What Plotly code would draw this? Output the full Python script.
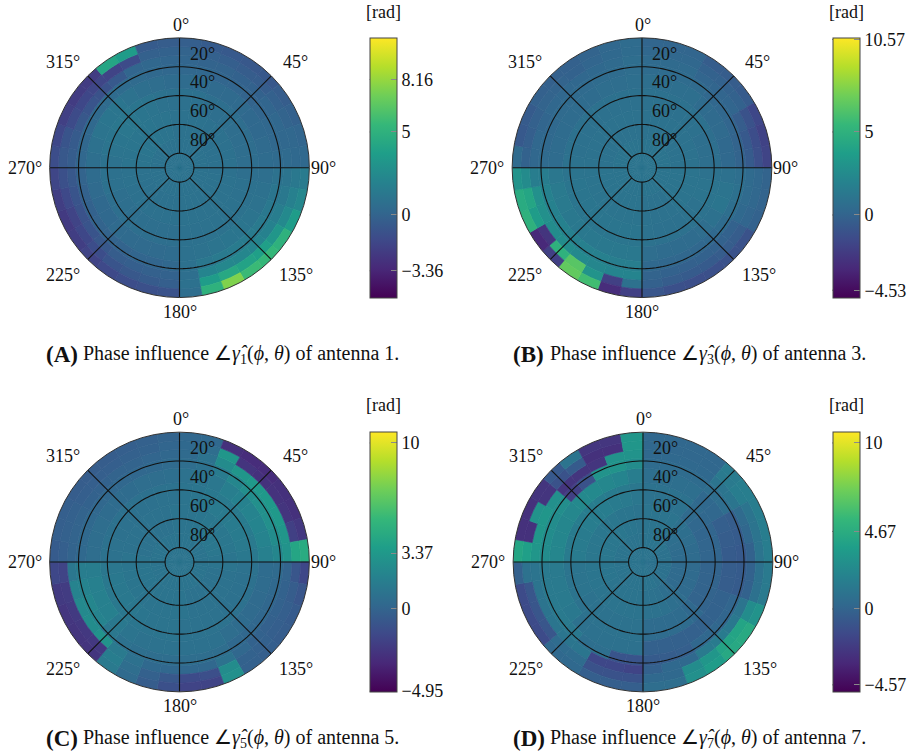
import numpy as np
import plotly.graph_objects as go

W, H = 912, 756
FONT = "Liberation Serif"
INK = "#111111"

# ring edges (r = 90 - elevation) and sector width
ring_edges = [0, 20, 40, 55, 65, 72, 78, 84, 90]
sector_deg = 10

# phase values [rad]; one row per ring (inner to outer), 36 sectors clockwise from 0 deg
phase_a = [
 [.9,.9,.9,.9,.9,.9,.9,.9,.9, .9,.9,.9,.9,.9,.9,.9,.9,.9, .9,.9,.9,.9,.9,.9,.9,.9,.9, .9,.9,.9,.9,.9,.9,.9,.9,.9],
 [.9,.9,.9,.8,.8,.8,.8,.8,.8, .8,.9,.9,.9,.9,.9,.9,.9,.9, .8,.8,.8,.8,.8,.8,.8,.9,.9, 1.,1.,1.1,1.1,1.1,1.1,1.,1.,.9],
 [.8,.8,.7,.7,.7,.6,.6,.6,.6, .7,.8,.8,.9,.9,.9,.9,.8,.8, .7,.7,.7,.7,.7,.7,.7,.8,.8, .9,1.,1.1,1.2,1.2,1.1,1.,.9,.8],
 [.5,.5,.4,.4,.4,.3,.3,.4,.5, .7,.8,.9,1.,1.1,1.1,1.,.9,.8, .5,.4,.4,.4,.4,.3,.3,.4,.5, .7,.8,1.,1.1,1.1,.9,.7,.6,.5],
 [.2,.2,.1,.1,0,.1,.2,.2,.4, .9,1.1,1.3,1.4,1.5,1.5,1.4,1.2,.8, .2,.1,.1,0,0,0,-.1,-.1,0, .2,.2,.3,.4,.5,.5,.4,.3,.2],
 [.1,0,0,-.1,-.1,.1,.2,.2,.4, 1.,1.3,1.6,1.9,2.1,2.2,2.3,2.1,.7, -.1,-.2,-.3,-.4,-.7,-.9,-1.,-.9,-.7, -.4,-.5,-.7,-.9,-1.,-.6,.1,.2,.1],
 [0,-.2,-.3,-.4,-.4,-.2,0,.2,.3, 1.3,1.8,2.4,3.2,3.8,4.,4.4,3.6,.8, -.3,-.5,-.7,-.9,-1.3,-1.6,-1.8,-1.5,-1.1, -.7,-.9,-1.4,-1.6,-1.7,-1.8,-1.4,-.2,-.1],
 [-.3,-.5,-.6,-.7,-.7,-.4,-.2,.1,.3, 1.5,2.3,3.6,5.,5.4,5.6,7.6,5.,.6, -1.,-1.1,-1.3,-1.5,-1.8,-2.1,-2.3,-2.1,-1.7, -1.3,-1.6,-2.,-2.2,-2.2,4.2,3.6,-.5,-.4],
]
phase_b = [
 [1.,1.,1.,1.,1.,1.,1.,1.,1., 1.,1.,1.,1.,1.,1.,1.,1.,1., 1.,1.,1.,1.,1.,1.,1.,1.,1., 1.,1.,1.,1.,1.,1.,1.,1.,1.],
 [.9,.9,.9,.9,.9,.9,.9,.9,.9, 1.,1.,1.,1.,1.,.9,.9,.9,.9, 1.,1.,1.,1.,1.,1.,1.,1.,1., .9,.9,.9,.9,.9,.9,.9,.9,.9],
 [.8,.8,.8,.8,.8,.8,.7,.7,.7, .9,1.,1.,.9,.9,.8,.8,.8,.9, 1.1,1.1,1.1,1.1,1.1,1.1,1.1,1.1,1., .9,.8,.8,.8,.8,.8,.8,.8,.8],
 [.7,.7,.7,.7,.5,.4,.4,.3,.3, .8,1.,1.1,.8,.6,.5,.5,.5,.6, 1.3,1.3,1.3,1.3,1.3,1.3,1.4,1.4,1.2, .5,.5,.5,.5,.5,.5,.6,.6,.7],
 [.5,.5,.5,.4,.2,.2,.1,0,0, .7,.8,.7,.5,.3,.2,.2,.2,.3, 1.7,1.7,1.8,1.8,1.8,1.9,1.9,1.9,1.6, .4,.3,.3,.4,.4,.4,.5,.5,.6],
 [.4,.4,.4,.1,.1,.1,-.4,-.6,-.5, .4,.4,.3,-.1,-.1,-.1,-.2,-.1,0, 2.1,2.1,2.2,2.4,2.6,2.6,2.8,2.8,1.6, .2,.2,.1,.2,.2,.2,.3,.4,.6],
 [.2,.2,.2,-.1,-.1,-.1,-1.,-1.3,-1.2, .2,.2,.1,-.4,-.4,-.5,-.5,-.4,-.2, .8,-2.,3.,6.5,5.,-2.6,3.6,4.2,2.5, -.1,-.3,-.2,0,0,-.1,.1,.3,.5],
 [.1,.1,.1,-.4,-.4,-.5,-1.6,-1.9,-1.8, 0,0,-.1,-1.,-1.,-1.1,-1.2,-1.1,-.8, -2.,-3.,5.8,6.8,-2.,-3.2,5.,4.6,3., .4,-.6,-.5,-.2,-.2,-.2,0,.2,.5],
]
phase_c = [
 [1.,1.,1.,1.,1.,1.,1.,1.,1., 1.,1.,1.,1.,1.,1.,1.,1.,1., 1.,1.,1.,1.,1.,1.,1.,1.,1., 1.,1.,1.,1.,1.,1.,1.,1.,1.],
 [1.,1.,1.1,1.2,1.2,1.2,1.2,1.2,1.1, 1.,.9,.9,.9,.9,.9,.9,.9,1., 1.,1.,1.,1.,1.,1.1,1.1,1.1,1.1, 1.,.9,.9,.9,.9,.9,.9,.9,1.],
 [1.,1.1,1.3,1.4,1.4,1.5,1.5,1.4,1.3, .9,.8,.8,.8,.8,.9,.9,.9,.9, 1.,1.,1.,1.1,1.2,1.3,1.3,1.3,1.2, .9,.9,.8,.8,.8,.8,.8,.9,.9],
 [.9,1.,1.2,1.7,1.9,2.,2.1,2.,1.8, .5,.5,.4,.4,.5,.6,.8,.8,.8, .9,.9,.9,1.,1.3,1.8,1.8,1.8,1.6, .6,.6,.6,.5,.5,.5,.6,.6,.7],
 [.6,.8,1.5,2.2,2.7,2.8,2.8,2.6,2.2, .4,.3,.2,.2,.2,.3,.6,.6,.6, .6,.6,.7,.8,1.2,2.,2.2,2.,1.6, .3,.3,.3,.2,.2,.2,.2,.3,.4],
 [.4,.9,2.5,3.2,3.4,3.4,3.4,3.2,3., 0,-.1,-.1,-.2,-.1,.2,.9,.2,.2, .2,.3,.8,1.4,3.,2.6,2.4,2.,1.2, 0,0,0,-.1,-.1,0,0,.1,.2],
 [.3,.6,3.2,-2.6,-2.8,-2.7,-2.6,-2.,4.2, -.8,-.4,-.3,-.3,-.2,-.1,2.6,-1.2,-1.4, -.7,-.2,.6,1.6,-2.4,-2.4,-2.3,-2.2,-1.8, -.3,-.2,-.2,-.3,-.3,-.3,-.2,-.1,.1],
 [.2,.3,-2.8,-3.,-3.,-2.8,-2.8,-2.4,4.6, -1.6,-.8,-.5,-.4,-.3,-.2,2.8,-1.8,-1.8, -1.1,-.4,.4,1.4,-2.6,-2.6,-2.5,-2.3,-1.6, -.5,-.3,-.3,-.4,-.4,-.4,-.3,-.2,0],
]
phase_d = [
 [1.,1.,1.,1.,1.,1.,.9,.9,.9, .8,.8,.8,.9,.9,.9,1.,1.,1., 1.,1.,1.,1.,1.,1.,1.,1.,1., 1.,1.,1.,1.,1.,1.,1.,1.,1.],
 [1.,1.,1.,1.,.8,.7,.6,.5,.5, .4,.4,.4,.4,.6,.7,.8,.9,.9, 1.,1.,1.,1.,1.,1.,1.1,1.1,1.1, 1.2,1.2,1.2,1.2,1.2,1.2,1.1,1.1,1.],
 [.9,.9,.9,.9,.4,.2,.1,.1,.1, 0,0,0,0,.3,.5,.5,.5,.5, .9,.9,.9,.9,.9,.9,1.,1.,1., 1.5,1.5,1.5,1.6,1.6,1.6,1.5,1.4,1.2],
 [.7,.7,.7,.7,.3,.2,-.3,-.4,-.5, -.4,-.4,-.1,-.1,-.1,-.2,-.2,-.2,-.2, .8,.8,.8,.8,.8,1.3,1.4,1.4,1.4, 2.2,2.2,2.2,2.3,2.4,2.4,2.3,2.1,1.6],
 [.5,.5,.5,.5,.6,.6,-.4,-.5,-.6, -.5,-.5,.1,.1,.2,.2,-.3,-.4,-.5, -.9,-.9,.7,.7,1.3,1.4,1.4,1.4,1.4, 2.6,2.6,2.6,2.7,-2.,-1.,3.,3.,2.6],
 [.3,.3,.3,.3,1.,1.1,.4,.2,-.1, -.1,-.1,1.,1.3,1.5,1.4,.3,.3,-.2, -1.8,-1.6,-1.6,1.1,1.1,1.1,1.,1.,1., 3.2,3.2,3.2,2.8,-2.6,-2.6,-2.6,3.,3.,],
 [.2,.2,.2,.2,1.4,1.6,1.,1.,1., .8,.8,2.6,4.1,4.1,3.2,2.6,.3,.3, -1.,-1.,-1.,.5,.5,-.8,-.8,-.8,.9, 3.8,-2.8,3.,-2.6,-1.,-.5,-2.8,-2.8,3.2],
 [.2,.2,.2,.2,1.5,1.7,1.6,1.6,1.6, 1.4,1.4,3.,4.5,4.4,3.6,2.8,.6,.6, -.3,-.3,-.3,.3,.3,-1.4,-1.4,-1.4,-.2, 4.2,-2.8,-2.8,-2.6,-.6,1.,-2.5,-2.5,3.2],
]

angle_ticks = [0, 45, 90, 135, 180, 225, 270, 315]
angle_label_dx = [1, 116, 144, 117, 0, -117, -155, -117]
angle_label_dy = [-143, -106, 0, 107, 144, 107, 0, -106]
elevation_ticks = [20, 40, 60, 80]
cbar_ticks = [
    [-3.36, 0, 5, 8.16],
    [-4.53, 0, 5, 10.57],
    [-4.95, 0, 3.37, 10],
    [-4.57, 0, 4.67, 10],
]
panel_letters = ["A", "B", "C", "D"]
panel_antennas = [1, 3, 5, 7]
panels = [phase_a, phase_b, phase_c, phase_d]

cmin, cmax = -5.0, 10.66
R_PX = 130
centres = [(179.7, 167.7), (642.7, 167.7), (179.7, 562.0), (643.7, 562.0)]
bar_x = [370, 833, 370, 833]
bar_top = [38, 38, 432, 432]
BAR_LEN = 260
BAR_W = 27
rad_y = [12, 12, 405, 405]
cap_pos = [(44, 355), (512, 355), (44, 738), (512, 738)]

def fmt(v):
    s = f"{v:g}"
    return s.replace("-", "\u2212")

fig = go.Figure()
layout = {}
shapes = []
annotations = []

def px_ann(x, y, text, size=18, xanchor="center"):
    annotations.append(dict(x=x / W, y=1 - y / H, xref="paper", yref="paper", text=text,
                            showarrow=False, xanchor=xanchor, yanchor="middle",
                            font=dict(family=FONT, size=size, color=INK)))

for i, values in enumerate(panels):
    name = "polar" if i == 0 else f"polar{i+1}"
    cx, cy = centres[i]
    layout[name] = dict(
        domain=dict(x=[(cx - R_PX) / W, (cx + R_PX) / W],
                    y=[1 - (cy + R_PX) / H, 1 - (cy - R_PX) / H]),
        bgcolor="white",
        radialaxis=dict(range=[0, 90], visible=False, showgrid=False),
        angularaxis=dict(rotation=90, direction="clockwise", tickmode="array",
                         tickvals=angle_ticks, showticklabels=False,
                         showgrid=False, showline=True, linecolor="#333333", linewidth=1,
                         ticks=""),
    )
    rs, ths, ws, bases, cs = [], [], [], [], []
    for k, row in enumerate(values):
        for j, v in enumerate(row):
            rs.append(ring_edges[k + 1] - ring_edges[k])
            bases.append(ring_edges[k])
            ths.append(j * sector_deg + sector_deg / 2)
            ws.append(sector_deg)
            cs.append(v)
    fig.add_trace(go.Barpolar(
        r=rs, theta=ths, width=ws, base=bases, subplot=name, showlegend=False, hoverinfo="skip",
        marker=dict(color=cs, cmin=cmin, cmax=cmax, colorscale="Viridis", showscale=True,
                    line=dict(color=cs, cmin=cmin, cmax=cmax, colorscale="Viridis", width=0.7),
                    colorbar=dict(x=bar_x[i] / W, xanchor="left", xpad=0, ypad=0,
                                  y=1 - bar_top[i] / H, yanchor="top",
                                  len=BAR_LEN, lenmode="pixels", thickness=BAR_W, thicknessmode="pixels",
                                  outlinecolor="#444444", outlinewidth=1,
                                  tickmode="array", tickvals=cbar_ticks[i],
                                  ticktext=[fmt(t) for t in cbar_ticks[i]],
                                  ticks="inside", ticklen=6, tickcolor="#8a8a8a", tickwidth=1,
                                  tickfont=dict(family=FONT, size=18, color=INK))),
    ))
    # grid lines: the spokes stop at the 80 deg ring
    sp_t, sp_r = [], []
    for a in angle_ticks:
        sp_t += [a, a, None]
        sp_r += [10, 90, None]
    for e in elevation_ticks:
        tt = np.linspace(0, 360, 181).tolist()
        sp_t += tt + [None]
        sp_r += [90 - e] * len(tt) + [None]
    fig.add_trace(go.Scatterpolar(r=sp_r, theta=sp_t, mode="lines", subplot=name, showlegend=False,
                                  hoverinfo="skip", line=dict(color="#111111", width=1.1)))
    # left-hand colorbar tick marks
    for t in cbar_ticks[i]:
        yy = bar_top[i] + (cmax - t) / (cmax - cmin) * BAR_LEN
        shapes.append(dict(type="line", xref="paper", yref="paper",
                           x0=bar_x[i] / W, x1=(bar_x[i] + 6) / W, y0=1 - yy / H, y1=1 - yy / H,
                           line=dict(color="#8a8a8a", width=1)))
    # angular labels
    for a, dx, dy in zip(angle_ticks, angle_label_dx, angle_label_dy):
        px_ann(cx + dx, cy + dy, f"{a}\u00b0")
    # elevation labels sit just right of the 0 deg spoke
    for e in elevation_ticks:
        ring_px = (90 - e) / 90 * R_PX
        px_ann(cx + 23, cy - ring_px - 13, f"{e}\u00b0")
    px_ann(bar_x[i] + 14, rad_y[i], "[rad]")
    x, y = cap_pos[i]
    ant = panel_antennas[i]
    px_ann(x, y, f"<b>({panel_letters[i]})</b>", size=23, xanchor="left")
    px_ann(x + 37, y,
           f"Phase influence \u2220<i>\u03b3\u0302</i><sub>{ant}</sub>(<i>\u03d5</i>, <i>\u03b8</i>) of antenna {ant}.",
           size=20, xanchor="left")

fig.update_layout(width=W, height=H, margin=dict(l=0, r=0, t=0, b=0), paper_bgcolor="white",
                  plot_bgcolor="white", showlegend=False, shapes=shapes, annotations=annotations,
                  font=dict(family=FONT, size=18, color=INK), **layout)
fig.write_html("out.html", config={"displayModeBar": False},
               post_script="document.body.style.margin='0';document.body.style.overflow='hidden';")
